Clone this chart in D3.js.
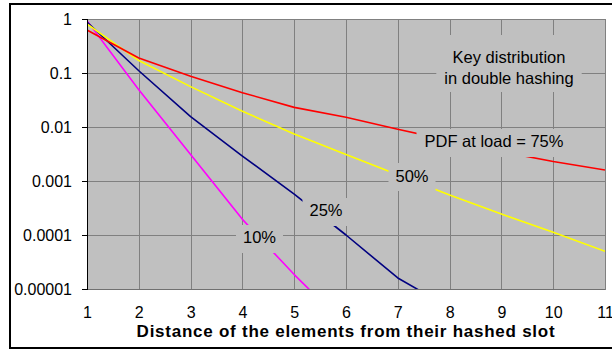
<!DOCTYPE html>
<html><head><meta charset="utf-8">
<script src="https://cdn.jsdelivr.net/npm/d3@7"></script>
<style>
html,body{margin:0;padding:0;background:#fff;}
svg{display:block;font-family:"Liberation Sans",Arial,Helvetica,sans-serif;}
</style></head>
<body><svg id="chart" width="612" height="352"></svg>
<script>
// Probability of a key sitting d slots away from its hashed slot (double hashing)
const distances = [1, 2, 3, 4, 5, 6, 7, 8, 9, 10, 11];
const load10 = [0.93, 0.049, 0.0031, 0.000195, 0.0000185, 0.0000021];
const load25 = [0.88, 0.110, 0.0155, 0.0029, 0.00057, 0.0001, 0.000016, 0.0000045];
const load50 = [0.81, 0.17, 0.056, 0.0196, 0.0074, 0.0031, 0.0013, 0.00055, 0.000245, 0.000112, 0.00005];
const load75 = [0.625, 0.19, 0.087, 0.0432, 0.0231, 0.0151, 0.0091, 0.0056, 0.0035, 0.0023, 0.0016];

const seriesValues = [load10, load25, load50, load75];
const seriesLabels = ["10%", "25%", "50%", "PDF at load = 75%"];
const seriesColors = ["#FF00FF", "#000080", "#FFFF00", "#FF0000"];

const xTicks = [1, 2, 3, 4, 5, 6, 7, 8, 9, 10, 11];
const yTicks = [1, 0.1, 0.01, 0.001, 0.0001, 0.00001];
const yTickLabels = ["1", "0.1", "0.01", "0.001", "0.0001", "0.00001"];
const titleLines = ["Key distribution", "in double hashing"];
const xAxisTitle = "Distance of the elements from their hashed slot";

// layout
const plot = {left: 87, right: 605, top: 19, bottom: 289};
const plotFill = "#C0C0C0", gridColor = "#808080";
const fontSize = 16;

const svg = d3.select("#chart");

// outer chart frame
svg.append("rect").attr("x", 10).attr("y", 4).attr("width", 620).attr("height", 344)
  .attr("fill", "#fff").attr("stroke", "#000").attr("stroke-width", 2);

const x = d3.scaleLinear().domain([1, 11]).range([plot.left, plot.right]);
const y = d3.scaleLog().domain([0.00001, 1]).range([plot.bottom, plot.top]);

// plot area
svg.append("rect").attr("x", plot.left).attr("y", plot.top)
  .attr("width", plot.right - plot.left).attr("height", plot.bottom - plot.top)
  .attr("fill", plotFill).attr("stroke", gridColor).attr("stroke-width", 1)
  .attr("shape-rendering", "crispEdges");

// gridlines
const grid = svg.append("g").attr("stroke", gridColor).attr("stroke-width", 1)
  .attr("shape-rendering", "crispEdges");
grid.selectAll("line.v").data(xTicks.slice(1, -1)).join("line").attr("class", "v")
  .attr("x1", d => Math.round(x(d)) + 0.5).attr("x2", d => Math.round(x(d)) + 0.5)
  .attr("y1", plot.top).attr("y2", plot.bottom);
grid.selectAll("line.h").data(yTicks.slice(1, -1)).join("line").attr("class", "h")
  .attr("y1", d => Math.round(y(d)) + 0.5).attr("y2", d => Math.round(y(d)) + 0.5)
  .attr("x1", plot.left).attr("x2", plot.right);

// series lines, clipped to the plot area
svg.append("clipPath").attr("id", "plotClip").append("rect")
  .attr("x", plot.left).attr("y", plot.top)
  .attr("width", plot.right - plot.left).attr("height", plot.bottom - plot.top);

const line = d3.line().x((d, i) => x(distances[i])).y(d => y(d));
svg.append("g").attr("clip-path", "url(#plotClip)")
  .selectAll("path").data(seriesValues).join("path")
  .attr("d", d => line(d))
  .attr("fill", "none")
  .attr("stroke", (d, i) => seriesColors[i])
  .attr("stroke-width", 1.6)
  .attr("stroke-linejoin", "round");

// bottom axis line
svg.append("line").attr("x1", plot.left).attr("x2", plot.right)
  .attr("y1", plot.bottom + 0.5).attr("y2", plot.bottom + 0.5)
  .attr("stroke", "#707070").attr("shape-rendering", "crispEdges");

// y axis
const yAxis = d3.axisLeft(y).tickValues(yTicks)
  .tickFormat((d, i) => yTickLabels[i]).tickSize(5).tickPadding(10);
const gy = svg.append("g").attr("transform", `translate(${plot.left},0)`).call(yAxis);
gy.select(".domain").attr("stroke", "#000").attr("shape-rendering", "crispEdges");
gy.selectAll(".tick line").attr("stroke", "#000").attr("shape-rendering", "crispEdges");
gy.selectAll(".tick text").attr("font-size", fontSize).attr("fill", "#000")
  .attr("font-family", "'Liberation Sans', Arial, sans-serif").attr("dy", "0.36em");

// x axis
const xAxis = d3.axisBottom(x).tickValues(xTicks).tickFormat(d3.format("d"))
  .tickSize(0).tickPadding(0);
const gx = svg.append("g").attr("transform", `translate(0,${plot.bottom})`).call(xAxis);
gx.select(".domain").remove();
gx.selectAll(".tick text").attr("font-size", fontSize).attr("fill", "#000")
  .attr("font-family", "'Liberation Sans', Arial, sans-serif")
  .attr("y", 29).attr("dy", null);

// x axis title
svg.append("text").attr("x", (plot.left + plot.right) / 2).attr("y", 337)
  .attr("text-anchor", "middle").attr("font-size", 17).attr("font-weight", "bold")
  .attr("letter-spacing", "0.75px").attr("fill", "#000").text(xAxisTitle);

// annotation boxes (background-filled so they mask the grid and lines)
function labelBox(lines, cx, firstBaseline, lineGap, padX, top, bottom) {
  const g = svg.append("g");
  const rect = g.append("rect").attr("fill", plotFill);
  const t = g.append("text").attr("text-anchor", "middle").attr("font-size", 16.5).attr("fill", "#000");
  lines.forEach((s, i) => t.append("tspan").attr("x", cx).attr("y", firstBaseline + i * lineGap).text(s));
  const w = d3.max(t.selectAll("tspan").nodes(), n => n.getComputedTextLength());
  rect.attr("x", cx - w / 2 - padX).attr("width", w + 2 * padX)
    .attr("y", top).attr("height", bottom - top);
}
labelBox(titleLines, 509, 63, 21, 8, 35, 92);
labelBox([seriesLabels[3]], 494, 147, 0, 8, 129, 157);
labelBox([seriesLabels[2]], 412, 181.5, 0, 7, 163, 191);
labelBox([seriesLabels[1]], 326, 216, 0, 7, 198, 226);
labelBox([seriesLabels[0]], 259.5, 243, 0, 7, 225, 253);
</script>
</body></html>
